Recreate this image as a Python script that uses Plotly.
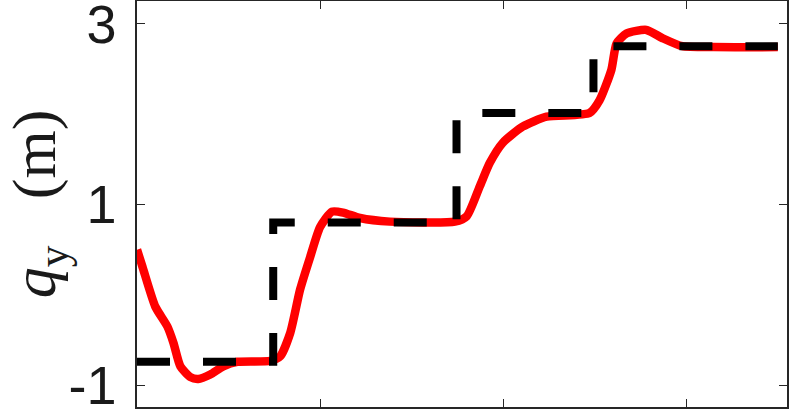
import plotly.graph_objects as go

# reference trajectory (step), x in s, y in m
ref_t = [0, 7.44, 7.44, 17.45, 17.45, 24.93, 24.93, 35.0]
ref_q = [-0.74, -0.74, 0.80, 0.80, 2.01, 2.01, 2.75, 2.75]

# actual response
act_t = [0, 0.3, 1.0, 1.66, 1.99, 2.37, 2.92, 3.35, 4.0, 4.71, 5.48, 7.28,
         7.82, 8.37, 8.91, 9.46, 10.0, 10.65, 11.25, 12.18, 13.81, 17.36,
         18.01, 18.72, 19.27, 19.97, 21.06, 22.37, 24.71, 25.26, 25.91,
         26.19, 26.73, 27.82, 28.69, 29.78, 31.5, 35.0]
act_q = [0.50, 0.31, -0.13, -0.35, -0.53, -0.79, -0.91, -0.93, -0.88, -0.79,
         -0.74, -0.73, -0.68, -0.42, 0.06, 0.42, 0.75, 0.92, 0.91, 0.85, 0.81,
         0.81, 0.87, 1.20, 1.46, 1.68, 1.86, 1.97, 2.01, 2.15, 2.49, 2.78,
         2.89, 2.93, 2.84, 2.75, 2.74, 2.74]

ytick_vals = [-1, 1, 3]
ytick_text = ["-1", "1", "3"]
xtick_vals = [10, 20, 30]

fig = go.Figure()
fig.add_trace(go.Scatter(
    x=act_t, y=act_q, mode="lines",
    line=dict(color="#ff0000", width=8.5, shape="spline", smoothing=0.6),
))
fig.add_trace(go.Scatter(
    x=ref_t, y=ref_q, mode="lines",
    line=dict(color="#000000", width=8, dash="33px,33px"),
))

axis_common = dict(
    showgrid=False, zeroline=False, showline=True, linecolor="#262626",
    linewidth=1.5, mirror="ticks", ticks="inside", ticklen=8, tickwidth=1,
    tickcolor="#262626", automargin=False,
)
fig.update_xaxes(range=[0, 35.5], tickvals=xtick_vals, showticklabels=False,
                 **axis_common)
fig.update_yaxes(
    range=[-1.24, 3.25], tickvals=ytick_vals, ticktext=ytick_text,
    ticklabeloverflow="allow", ticklabelstandoff=8,
    tickfont=dict(family="Liberation Sans, Arial", size=54, color="#1a1a1a"),
    title=dict(text="<i>q</i><sub>y</sub>&nbsp;&nbsp;&nbsp;(m)",
               font=dict(family="Liberation Serif, serif", size=62, color="#1a1a1a"),
               standoff=2),
    **axis_common,
)
fig.update_layout(
    width=793, height=414, showlegend=False,
    plot_bgcolor="white", paper_bgcolor="white",
    margin=dict(l=137, r=6, t=1, b=7),
)
fig.write_html("out.html", config={"displayModeBar": False},
               post_script="document.body.style.margin='0';")
